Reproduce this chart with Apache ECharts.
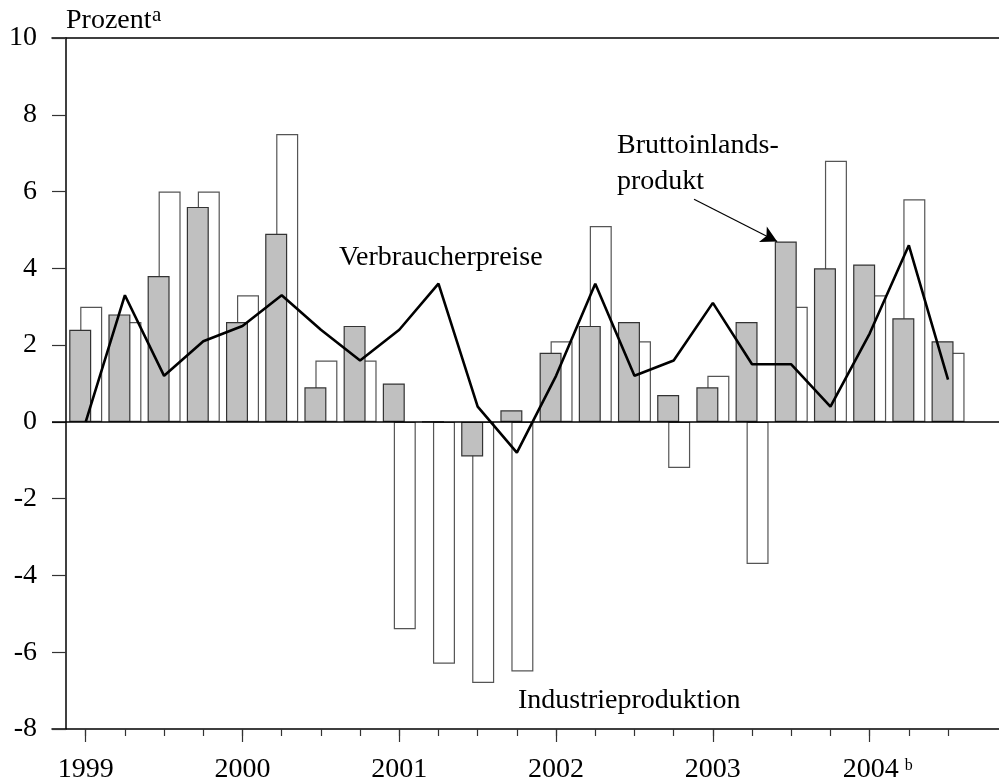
<!DOCTYPE html>
<html>
<head>
<meta charset="utf-8">
<script src="https://cdn.jsdelivr.net/npm/echarts@6/dist/echarts.min.js"></script>
<style>
  html, body { margin: 0; padding: 0; background: #fff; }
  #chart { width: 999px; height: 782px; }
</style>
</head>
<body>
<div id="chart"></div>
<script>
// Quartale 1999 Q1 .. 2004 Q3, Veränderung in Prozent
const years = ['1999', '2000', '2001', '2002', '2003', '2004']
const bip = [2.4, 2.8, 3.8, 5.6, 2.6, 4.9, 0.9, 2.5, 1.0, 0, -0.9, 0.3, 1.8, 2.5, 2.6, 0.7, 0.9, 2.6, 4.7, 4.0, 4.1, 2.7, 2.1]
const industrie = [3.0, 2.6, 6.0, 6.0, 3.3, 7.5, 1.6, 1.6, -5.4, -6.3, -6.8, -6.5, 2.1, 5.1, 2.1, -1.2, 1.2, -3.7, 3.0, 6.8, 3.3, 5.8, 1.8]
const preise = [0, 3.3, 1.2, 2.1, 2.5, 3.3, 2.4, 1.6, 2.4, 3.6, 0.4, -0.8, 1.2, 3.6, 1.2, 1.6, 3.1, 1.5, 1.5, 0.4, 2.3, 4.6, 1.1]

const font = 'Liberation Serif, Times New Roman, serif'
const fs = 28

const quarterIdx = bip.map((_, i) => i)
const yearIdx = years.map((_, i) => i * 4)
const pairs = arr => arr.map((v, i) => [i, v])

const chart = echarts.init(document.getElementById('chart'))

const xBase = {
  type: 'value',
  min: -0.86,
  max: 23.3,
  splitLine: { show: false }
}

chart.setOption({
  animation: false,
  backgroundColor: '#fff',
  grid: { left: 52, right: 0, top: 38, bottom: 53, outerBoundsMode: 'none' },
  xAxis: [
    {
      ...xBase,
      position: 'bottom',
      axisLine: { onZero: false, lineStyle: { color: '#000', width: 1.5 } },
      axisTick: { customValues: quarterIdx, length: 7, lineStyle: { color: '#333', width: 1.2 } },
      axisLabel: { show: false }
    },
    {
      ...xBase,
      position: 'bottom',
      axisLine: { show: false, onZero: false },
      axisTick: { customValues: yearIdx, length: 13, lineStyle: { color: '#333', width: 1.2 } },
      axisLabel: {
        customValues: yearIdx,
        margin: 26,
        color: '#000',
        fontFamily: font,
        fontSize: fs,
        formatter: v => {
          const y = years[Math.round(v / 4)]
          return y === '2004' ? '{yb|' + y + '}{s|b}' : '{y|' + y + '}'
        },
        rich: {
          y: { fontFamily: font, fontSize: fs, lineHeight: 30, color: '#000' },
          yb: { fontFamily: font, fontSize: fs, lineHeight: 30, color: '#000', padding: [0, 0, 0, 16] },
          s: { fontFamily: font, fontSize: 16, lineHeight: 30, color: '#000', verticalAlign: 'top', padding: [3, 0, 0, 6] }
        }
      }
    },
    {
      ...xBase,
      position: 'top',
      axisLine: { onZero: false, lineStyle: { color: '#000', width: 1.5 } },
      axisTick: { show: false },
      axisLabel: { show: false }
    }
  ],
  yAxis: {
    type: 'value',
    min: -8,
    max: 10,
    interval: 2,
    offset: -14,
    axisLine: { show: true, onZero: false, lineStyle: { color: '#000', width: 1.5 } },
    axisTick: { show: true, length: 14, lineStyle: { color: '#333', width: 1.2 } },
    axisLabel: { margin: 29, color: '#000', fontFamily: font, fontSize: fs },
    splitLine: { show: false }
  },
  series: [
    {
      name: 'Bruttoinlandsprodukt',
      type: 'bar',
      data: pairs(bip),
      barWidth: 22,
      barGap: '-50%',
      z: 4,
      itemStyle: { color: '#c0c0c0', borderColor: '#333', borderWidth: 1.2 }
    },
    {
      name: 'Industrieproduktion',
      type: 'bar',
      data: pairs(industrie),
      barWidth: 22,
      z: 3,
      itemStyle: { color: '#fff', borderColor: '#555', borderWidth: 1.2 }
    },
    {
      name: 'Verbraucherpreise',
      type: 'line',
      data: pairs(preise),
      symbol: 'none',
      z: 6,
      lineStyle: { color: '#000', width: 2.6 },
      markLine: {
        silent: true,
        symbol: 'none',
        label: { show: false },
        lineStyle: { color: '#000', width: 1.5, type: 'solid' },
        data: [
          { yAxis: 0 },
          [
            { coord: [15.52, 5.8], symbol: 'none', lineStyle: { width: 1.2 } },
            { coord: [17.64, 4.7], symbol: 'arrow', symbolSize: [13, 16] }
          ]
        ]
      }
    }
  ],
  graphic: [
    { type: 'text', x: 66, y: 21, style: { text: 'Prozent', font: fs + 'px ' + font, fill: '#000', verticalAlign: 'middle' } },
    { type: 'text', x: 152, y: 15, style: { text: 'a', font: '21px ' + font, fill: '#000', verticalAlign: 'middle' } },
    { type: 'text', x: 339, y: 258, style: { text: 'Verbraucherpreise', font: fs + 'px ' + font, fill: '#000', verticalAlign: 'middle' } },
    { type: 'text', x: 617, y: 146, style: { text: 'Bruttoinlands-', font: fs + 'px ' + font, fill: '#000', verticalAlign: 'middle' } },
    { type: 'text', x: 617, y: 182, style: { text: 'produkt', font: fs + 'px ' + font, fill: '#000', verticalAlign: 'middle' } },
    { type: 'text', x: 518, y: 701, style: { text: 'Industrieproduktion', font: fs + 'px ' + font, fill: '#000', verticalAlign: 'middle' } }
  ]
})
</script>
</body>
</html>
